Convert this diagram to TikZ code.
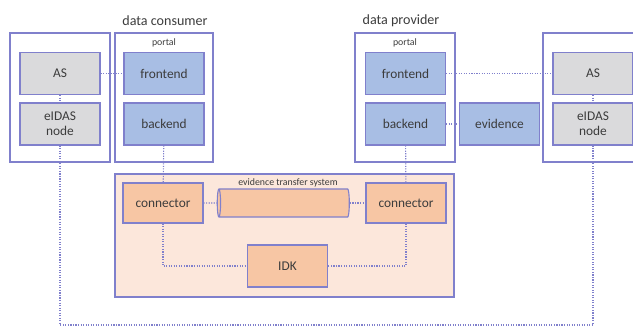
\documentclass[tikz,border=0pt]{standalone}
\usepackage{fontspec}
\setmainfont{Carlito}
\usepackage{xcolor}
\definecolor{frame}{RGB}{128,128,204}
\definecolor{asgray}{RGB}{218,218,220}
\definecolor{portalblue}{RGB}{168,190,228}
\definecolor{connorange}{RGB}{247,198,164}
\definecolor{etspeach}{RGB}{252,231,219}
\definecolor{darktext}{RGB}{60,60,60}
\usetikzlibrary{positioning,shapes.geometric,fit}
\tikzset{
  unit/.style={rectangle,draw=frame,line width=0.8pt,minimum width=2cm,minimum height=1.05cm,
               align=center,text=darktext,font=\fontsize{9.5}{10.5}\selectfont,inner sep=1pt},
  asbox/.style={unit,fill=asgray},
  pbox/.style={unit,fill=portalblue},
  cbox/.style={unit,fill=connorange,minimum height=1cm},
  grp/.style={rectangle,draw=frame,line width=0.8pt,minimum height=3.225cm,minimum width=#1},
  grp/.default=2.5cm,
  link/.style={draw=frame,line width=0.8pt,dash pattern=on 0.8pt off 1pt},
  lbl/.style={text=darktext,font=\fontsize{10}{11}\selectfont,inner sep=0pt},
  sublbl/.style={text=darktext,font=\fontsize{7}{8}\selectfont,inner sep=0pt},
}

\begin{document}
\begin{tikzpicture}[x=0.025cm,y=-0.025cm]
    \useasboundingbox (0,0) rectangle (633,329);
    \clip (0,0) rectangle (633,329);

    \node[grp] (idl) at (60,97.5) {};
    \node[grp=2.45cm] (portc) at (164,97.5) {};
    \node[grp] (portp) at (405,97.5) {};
    \node[grp] (idr) at (593,97.5) {};
    \node[grp=8.475cm,minimum height=3.075cm,fill=etspeach] (ets) at (284.5,235.5) {};

    \node[lbl] (consumer) at (165,21) {data consumer};
    \node[lbl] (provider) at (401,21) {data provider};
    \node[sublbl] (portcl) at (164,43) {portal};
    \node[sublbl] (portpl) at (405,43) {portal};
    \node[sublbl] (etsl) at (288,183) {evidence transfer system};

    \node[asbox] (asl) at (60,73.5) {AS};
    \node[asbox] (eidasl) at (60,124) {eIDAS\\node};
    \node[pbox] (fec) at (164,73.5) {frontend};
    \node[pbox] (bec) at (164,124) {backend};
    \node[pbox] (fep) at (405.5,73.5) {frontend};
    \node[pbox] (bep) at (405.5,124) {backend};
    \node[pbox] (evid) at (499.5,124) {evidence};
    \node[asbox] (asr) at (593,73.5) {AS};
    \node[asbox] (eidasr) at (593,124) {eIDAS\\node};

    \node[cbox] (conl) at (163,203) {connector};
    \node[cbox] (conr) at (406,203) {connector};
    \node[cbox,minimum height=1.05cm] (idk) at (287.5,266) {IDK};
    \node[cylinder,shape border rotate=180,draw=frame,line width=0.8pt,fill=connorange,
          minimum width=0.7cm,minimum height=3.3cm,aspect=0.35] (pipe) at (285,203) {};

    \coordinate (bot) at (0,325);

    \draw[link] (asl) -- (fec);
    \draw[link] (asl) -- (eidasl);
    \draw[link] (fep) -- (asr);
    \draw[link] (asr) -- (eidasr);
    \draw[link] (bep) -- (evid);
    \draw[link] (bec) -- (conl);
    \draw[link] (bep) -- (conr);
    \draw[link] (conl) -- (pipe);
    \draw[link] (pipe) -- (conr);
    \draw[link] (conl.south) |- (idk.west);
    \draw[link] (conr.south) |- (idk.east);
    \draw[link] (eidasl.south) -- (eidasl.south |- bot) -| (eidasr.south);
  \end{tikzpicture}
\end{document}
